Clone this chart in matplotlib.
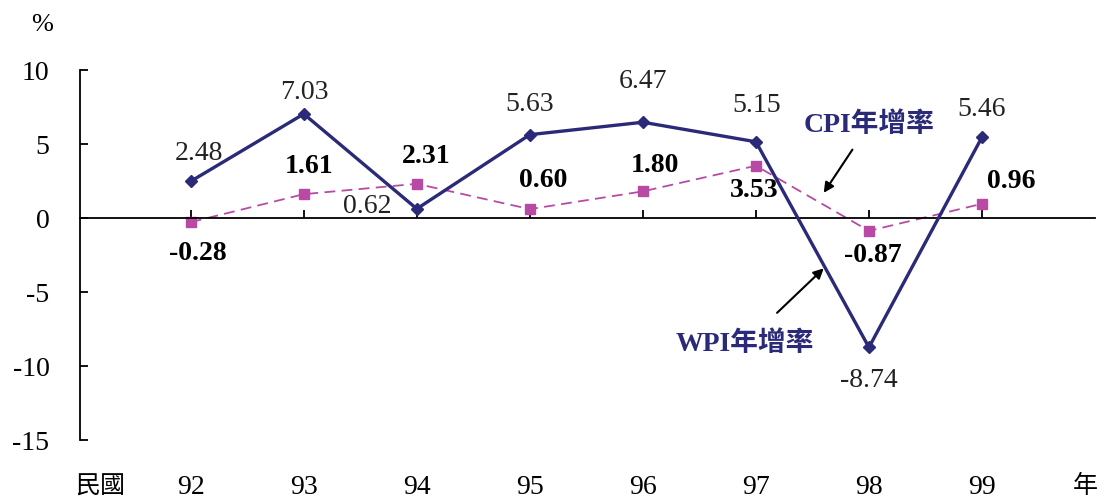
import matplotlib
matplotlib.use("Agg")
import matplotlib.pyplot as plt

# data
years = [92, 93, 94, 95, 96, 97, 98, 99]
wpi = [2.48, 7.03, 0.62, 5.63, 6.47, 5.15, -8.74, 5.46]
cpi = [-0.28, 1.61, 2.31, 0.60, 1.80, 3.53, -0.87, 0.96]
yticks = [10, 5, 0, -5, -10, -15]

# label offsets in pixels (dx, dy) with dy measured downward on screen
wpi_off = [(8, -28), (1, -21), (-50, -2), (0, -30), (0, -41), (1, -36), (0, 33), (0, -28)]
cpi_off = [(7, 31), (5, -28), (9, -27), (13, -29), (12, -26), (-2, 25), (4, 25), (29, -22)]

navy = "#2a2a78"
pink = "#b84aa6"
fam = ["Liberation Serif", "Noto Sans CJK TC"]
plt.rcParams["font.family"] = fam

fig = plt.figure(figsize=(11.04, 5), dpi=100)
ax = fig.add_axes([80 / 1104, 60 / 500, (1095 - 80) / 1104, 370 / 500])

ax.plot(years, wpi, color=navy, lw=2.4, marker="D", ms=6.5, zorder=3)
ax.plot(years, cpi, color=pink, lw=1.3, ls=(0, (6, 3.5)), marker="s", ms=7, zorder=2)

for x, v, (dx, dy) in zip(years, wpi, wpi_off):
    ax.annotate(f"{v:.2f}", (x, v), xytext=(dx, -dy), textcoords="offset pixels",
                ha="center", va="center", fontsize=20, color="#222222")
for x, v, (dx, dy) in zip(years, cpi, cpi_off):
    ax.annotate(f"{v:.2f}", (x, v), xytext=(dx, -dy), textcoords="offset pixels",
                ha="center", va="center", fontsize=20, fontweight="bold", color="black")

ax.set_xlim(91.02, 100)
ax.set_ylim(-15, 10)
ax.spines["top"].set_visible(False)
ax.spines["right"].set_visible(False)
ax.spines["bottom"].set_position(("data", 0))
ax.spines["left"].set_linewidth(1.3)
ax.spines["bottom"].set_linewidth(1.3)

ax.set_yticks(yticks)
ax.set_yticklabels([str(t) for t in yticks])
ax.tick_params(axis="y", direction="in", length=6, width=1.3, pad=22, labelsize=20)
ax.set_xticks(years)
ax.tick_params(axis="x", direction="in", length=6, width=1.3, labelbottom=False)

sec = ax.secondary_xaxis("bottom")
sec.set_xticks(years)
sec.set_xticklabels([str(y) for y in years])
sec.spines["bottom"].set_visible(False)
sec.tick_params(length=0, pad=25, labelsize=20)

fig.text(42 / 1104, 1 - 25 / 500, "%", ha="center", va="center", fontsize=19)
fig.text(100 / 1104, 1 - 488 / 500, "民國", ha="center", va="center", fontsize=18)
fig.text(1085 / 1104, 1 - 486 / 500, "年", ha="center", va="center", fontsize=18)

ax.annotate("CPI年增率", xy=(97.6, 1.7), xytext=(98.0, 6.3), fontsize=20, fontweight="bold",
            color=navy, ha="center", va="center",
            arrowprops=dict(arrowstyle="-|>", color="black", lw=1.5,
                            shrinkA=8, shrinkB=0, mutation_scale=15))
ax.annotate("WPI年增率", xy=(97.6, -3.4), xytext=(96.9, -8.5), fontsize=20, fontweight="bold",
            color=navy, ha="center", va="center",
            arrowprops=dict(arrowstyle="-|>", color="black", lw=1.5,
                            shrinkA=16, shrinkB=0, mutation_scale=15))

fig.savefig("out.png", dpi=100)
